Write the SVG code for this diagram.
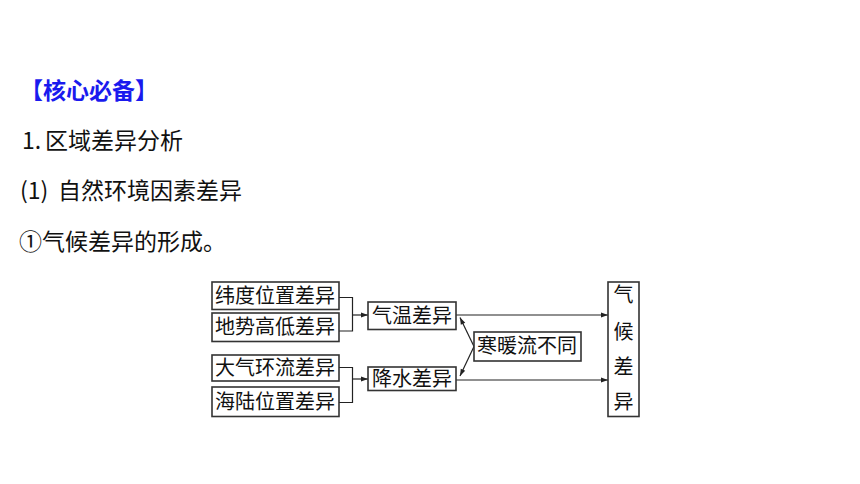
<svg xmlns="http://www.w3.org/2000/svg" width="860" height="484" viewBox="0 0 860 484">
<style>
.h{font-family:"Noto Sans CJK SC","Noto Sans",sans-serif;font-size:23px;fill:#111;}
.t{font-family:"Noto Sans CJK SC","Noto Sans",sans-serif;font-size:20px;fill:#111;}
.b{fill:#fff;stroke:#333;stroke-width:1.6;}
.c{fill:none;stroke:#222;stroke-width:1.2;}
</style>
<defs>
<marker id="ah" viewBox="0 0 10 10" refX="10" refY="5" markerWidth="10" markerHeight="7" markerUnits="userSpaceOnUse" orient="auto">
<path d="M0,1.5 L10,5 L0,8.5 Z" fill="#222"/>
</marker>
</defs>
<rect width="860" height="484" fill="#fff"/>
<text class="h" x="20" y="99" style="fill:#1a1aee;font-weight:bold">【核心必备】</text>
<text class="h" x="22" y="149">1.<tspan x="45">区域差异分析</tspan></text>
<text class="h" x="20" y="199">(1)<tspan x="58">自然环境因素差异</tspan></text>
<text class="h" x="19" y="250">①气候差异的形成。</text>
<g id="connectors">
<polyline class="c" points="339,297.5 352.5,297.5 352.5,331 339,331"/>
<line class="c" x1="352.5" y1="315" x2="368" y2="315" marker-end="url(#ah)"/>
<polyline class="c" points="339,367.5 352.5,367.5 352.5,402.5 339,402.5"/>
<line class="c" x1="352.5" y1="379" x2="368" y2="379" marker-end="url(#ah)"/>
<line class="c" x1="456" y1="315" x2="608" y2="315" marker-end="url(#ah)"/>
<line class="c" x1="456" y1="380" x2="608" y2="380" marker-end="url(#ah)"/>
<line class="c" x1="474" y1="346.5" x2="460" y2="317.5" marker-end="url(#ah)"/>
<line class="c" x1="474" y1="346.5" x2="460" y2="376" marker-end="url(#ah)"/>
</g>
<g id="n1"><rect class="b" x="212" y="282" width="127" height="27.5"/><text class="t" x="215" y="302.5">纬度位置差异</text></g>
<g id="n2"><rect class="b" x="212" y="313" width="127" height="28.5"/><text class="t" x="215" y="334">地势高低差异</text></g>
<g id="n3"><rect class="b" x="212" y="355" width="127" height="26"/><text class="t" x="215" y="375">大气环流差异</text></g>
<g id="n4"><rect class="b" x="212" y="387" width="127" height="29.5"/><text class="t" x="215" y="408.5">海陆位置差异</text></g>
<g id="n5"><rect class="b" x="368" y="302" width="88" height="27.5"/><text class="t" x="372" y="322.5">气温差异</text></g>
<g id="n6"><rect class="b" x="368" y="367" width="88" height="23.5"/><text class="t" x="372" y="385.5">降水差异</text></g>
<g id="n7"><rect class="b" x="474" y="332" width="107" height="29"/><text class="t" x="477" y="353">寒暖流不同</text></g>
<g id="n8"><rect class="b" x="608" y="282" width="31" height="134.5"/>
<text class="t" x="623.5" y="302" text-anchor="middle">气</text>
<text class="t" x="623.5" y="339" text-anchor="middle">候</text>
<text class="t" x="623.5" y="374" text-anchor="middle">差</text>
<text class="t" x="623.5" y="409" text-anchor="middle">异</text></g>
</svg>
